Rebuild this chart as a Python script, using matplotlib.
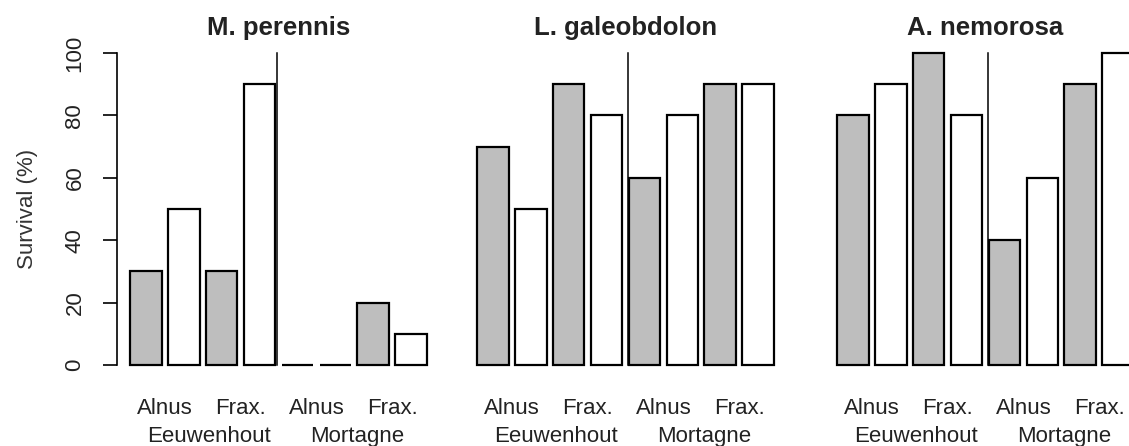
import matplotlib
matplotlib.use("Agg")
import matplotlib.pyplot as plt
import numpy as np

plt.rcParams['font.family'] = ['Liberation Sans', 'DejaVu Sans']

# %% data
species = ["M. perennis", "L. galeobdolon", "A. nemorosa"]
perennis = [30, 50, 30, 90, 0, 0, 20, 10]
galeobdolon = [70, 50, 90, 80, 60, 80, 90, 90]
nemorosa = [80, 90, 100, 80, 40, 60, 90, 100]
tree_labels = ["Alnus", "Frax.", "Alnus", "Frax."]
site_labels = ["Eeuwenhout", "Mortagne"]
yticks = [0, 20, 40, 60, 80, 100]

all_vals = [perennis, galeobdolon, nemorosa]
fills = ["#bebebe", "white"] * 4
txt_col = "#222222"

# R barplot style positions (width 1, space 0.2)
xpos = 0.7 + 1.2 * np.arange(8)
pair_pos = [(xpos[i] + xpos[i + 1]) / 2 for i in range(0, 8, 2)]
site_pos = [2.7, 7.4]
split_pos = [4.85, 4.98, 4.98]

W, H = 1129, 446
fig = plt.figure(figsize=(W / 100, H / 100), dpi=100)
lefts = [118.1, 465.1, 825.1]
ax_w = 320.8
bottom = (H - 377.5) / H
height = 337 / H

for k, vals in enumerate(all_vals):
    ax = fig.add_axes([lefts[k] / W, bottom, ax_w / W, height])
    ax.bar(xpos, vals, width=1.0, color=fills, edgecolor="black", linewidth=1.6)
    ax.plot([split_pos[k], split_pos[k]], [0, 100], color="black", linewidth=1.1)
    ax.set_xlim(-0.176, 9.976)
    ax.set_ylim(-4, 104)
    for s in ["top", "right", "bottom"]:
        ax.spines[s].set_visible(False)
    ax.set_xticks(pair_pos)
    ax.set_xticklabels(tree_labels, fontsize=16, color=txt_col)
    ax.tick_params(axis="x", length=0, pad=14.5)
    for j, lab in enumerate(site_labels):
        ax.text(site_pos[j], -0.19, lab, transform=ax.get_xaxis_transform(),
                ha="center", va="baseline", fontsize=16, color=txt_col)
    ax.set_title(species[k], fontsize=18.5, fontweight="bold", color=txt_col, pad=4)
    if k == 0:
        ax.spines["left"].set_bounds(0, 100)
        ax.spines["left"].set_linewidth(1.2)
        ax.spines["left"].set_position(("outward", 1))
        ax.set_yticks(yticks)
        ax.set_yticklabels([str(t) for t in yticks], rotation=90, va="center",
                           fontsize=16, color=txt_col)
        ax.tick_params(axis="y", length=10, width=1.2, pad=12.5)
    else:
        ax.spines["left"].set_visible(False)
        ax.set_yticks([])

fig.text(27 / W, 1 - 209 / H, "Survival (%)", rotation=90, ha="center", va="center",
         fontsize=16, color="#333333")

plt.savefig("out.png", dpi=100)
